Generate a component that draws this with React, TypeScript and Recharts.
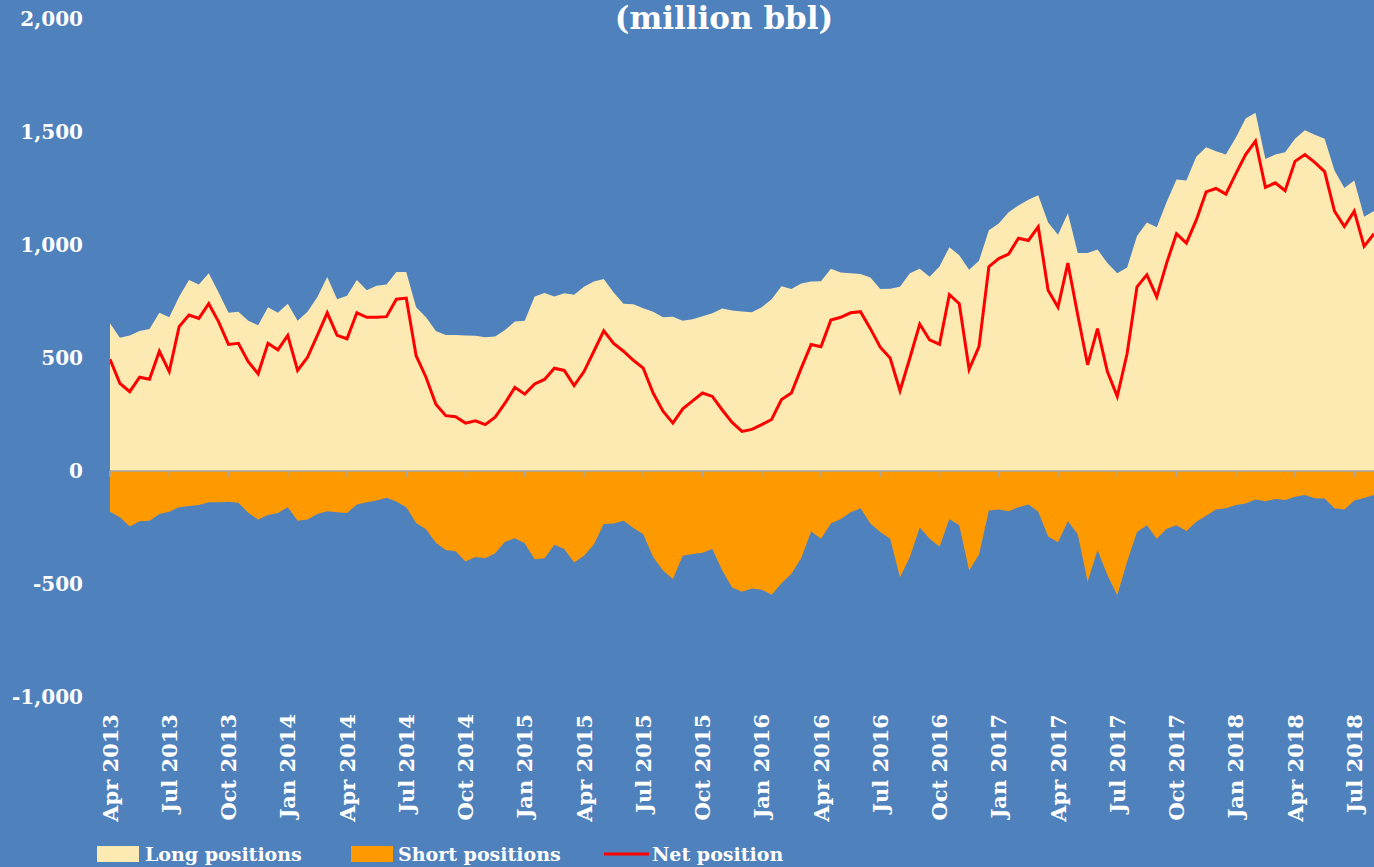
import React from 'react';
import { ComposedChart, Area, Line, XAxis, YAxis, ReferenceLine, Legend } from 'recharts';

// Semi-monthly observations, starting 1 Apr 2013 (index i -> i/2 months after Apr 2013)
const longPositions: number[] = [
  654, 590, 600, 620, 628, 700, 680, 771, 845, 825,
  875, 790, 700, 705, 665, 645, 725, 700, 740, 665,
  705, 770, 858, 760, 775, 845, 800, 820, 825, 880,
  880, 725, 680, 620, 602, 602, 600, 598, 592, 595,
  624, 661, 665, 772, 788, 772, 786, 780, 815, 838,
  850, 790, 740, 738, 720, 705, 680, 683, 665, 672,
  685, 698, 719, 710, 706, 702, 725, 760, 818, 805,
  830, 838, 840, 895, 878, 875, 872, 856, 805, 806,
  815, 875, 895, 860, 905, 990, 955, 890, 930, 1065,
  1095, 1145, 1175, 1200, 1220, 1100, 1045, 1140, 965, 965,
  980, 920, 875, 900, 1040, 1100, 1078, 1190, 1290, 1285,
  1390, 1432, 1415, 1400, 1475, 1560, 1585, 1380, 1400, 1410,
  1470, 1508, 1488, 1470, 1330, 1252, 1285, 1125, 1150,
];

const shortPositions: number[] = [
  -180, -205, -246, -222, -220, -190, -180, -160, -155, -150,
  -138, -138, -136, -140, -185, -215, -195, -186, -160, -220,
  -215, -190, -178, -183, -186, -148, -138, -130, -118, -135,
  -160, -230, -258, -318, -350, -355, -400, -380, -386, -364,
  -313, -298, -320, -391, -386, -326, -345, -405, -375, -325,
  -235, -232, -220, -252, -280, -380, -440, -478, -375, -367,
  -362, -345, -440, -515, -534, -520, -525, -548, -497, -455,
  -385, -268, -300, -232, -212, -182, -165, -232, -270, -300,
  -470, -380, -250, -300, -335, -212, -240, -440, -370, -175,
  -170, -178, -160, -148, -180, -290, -315, -222, -280, -490,
  -350, -460, -550, -400, -270, -240, -300, -255, -240, -265,
  -225, -198, -170, -165, -150, -144, -126, -134, -124, -128,
  -114, -106, -121, -122, -165, -170, -130, -120, -106,
];

const netPosition: number[] = [
  494, 388, 351, 415, 406, 530, 440, 639, 690, 675,
  740, 660, 560, 565, 484, 430, 565, 536, 600, 445,
  503, 600, 700, 600, 585, 700, 680, 680, 683, 760,
  765, 510, 415, 295, 245, 240, 212, 222, 205, 238,
  300, 370, 340, 385, 405, 455, 445, 378, 440, 530,
  620, 565, 530, 490, 455, 345, 265, 212, 275, 310,
  345, 330, 270, 215, 175, 184, 205, 228, 316, 345,
  455, 560, 550, 668, 680, 700, 705, 630, 548, 500,
  355, 500, 650, 580, 560, 780, 740, 450, 550, 904,
  940, 960, 1030, 1020, 1080, 800, 725, 920, 690, 470,
  630, 440, 330, 520, 815, 868, 770, 920, 1050, 1008,
  1110, 1235, 1250, 1225, 1315, 1400, 1460, 1255, 1275, 1240,
  1370, 1400, 1366, 1325, 1150, 1082, 1150, 994, 1050,
];

const quarterTicks: number[] = [0, 3, 6, 9, 12, 15, 18, 21, 24, 27, 30, 33, 36, 39, 42, 45, 48, 51, 54, 57, 60, 63];
const quarterLabels: string[] = [
  'Apr 2013', 'Jul 2013', 'Oct 2013', 'Jan 2014', 'Apr 2014', 'Jul 2014', 'Oct 2014', 'Jan 2015',
  'Apr 2015', 'Jul 2015', 'Oct 2015', 'Jan 2016', 'Apr 2016', 'Jul 2016', 'Oct 2016', 'Jan 2017',
  'Apr 2017', 'Jul 2017', 'Oct 2017', 'Jan 2018', 'Apr 2018', 'Jul 2018',
];
const yTicks: number[] = [-1000, -500, 0, 500, 1000, 1500, 2000];

const seriesNames = { long: 'Long positions', short: 'Short positions', net: 'Net position' };

const BG = '#4F81BD';
const LONG_C = '#FDE9B2';
const SHORT_C = '#FF9900';
const NET_C = '#FF0000';
const AXIS_C = '#A6A6A6';
const FONT = '"DejaVu Serif", serif';

const data = longPositions.map((v, i) => ({
  m: i / 2,
  long: v,
  short: shortPositions[i],
  net: netPosition[i],
}));

const XTick = (props: any) => {
  const { x, y, payload } = props;
  const idx = quarterTicks.indexOf(payload.value);
  const label = idx >= 0 ? quarterLabels[idx] : '';
  return (
    <text
      transform={`translate(${x},${y + 2}) rotate(-90)`}
      textAnchor="end"
      dominantBaseline="central"
      fill="#FFFFFF"
      fontFamily={FONT}
      fontWeight="bold"
      fontSize={21}
    >
      {label}
    </text>
  );
};

const LegendContent = () => (
  <svg width={1374} height={29} style={{ display: 'block' }}>
    <rect x={97} y={8} width={42} height={16} fill={LONG_C} />
    <text x={145} y={23} fill="#FFFFFF" fontFamily={FONT} fontWeight="bold" fontSize={19}>
      {seriesNames.long}
    </text>
    <rect x={351} y={8} width={42} height={16} fill={SHORT_C} />
    <text x={398} y={23} fill="#FFFFFF" fontFamily={FONT} fontWeight="bold" fontSize={19}>
      {seriesNames.short}
    </text>
    <line x1={604} x2={649} y1={16} y2={16} stroke={NET_C} strokeWidth={3} />
    <text x={652} y={23} fill="#FFFFFF" fontFamily={FONT} fontWeight="bold" fontSize={19}>
      {seriesNames.net}
    </text>
  </svg>
);

export default function App() {
  return (
    <div
      style={{
        position: 'absolute',
        left: 0,
        top: 0,
        width: 1374,
        height: 867,
        background: BG,
        overflow: 'hidden',
      }}
    >
      <ComposedChart
        width={1374}
        height={867}
        data={data}
        margin={{ top: 19, right: 0, bottom: 0, left: 0 }}
      >
        <XAxis
          dataKey="m"
          type="number"
          domain={[0, 64]}
          ticks={quarterTicks}
          interval={0}
          axisLine={false}
          tickLine={false}
          tickSize={0}
          tickMargin={15}
          height={141}
          tick={<XTick />}
          allowDataOverflow
        />
        <YAxis
          type="number"
          domain={[-1000, 2000]}
          ticks={yTicks}
          interval={0}
          width={110}
          axisLine={false}
          tickLine={false}
          tickSize={0}
          tickMargin={27}
          tickFormatter={(v: number) => v.toLocaleString('en-US')}
          tick={{ fill: '#FFFFFF', fontFamily: FONT, fontWeight: 'bold', fontSize: 20 }}
          allowDataOverflow
        />
        <Area
          type="linear"
          dataKey="long"
          name={seriesNames.long}
          fill={LONG_C}
          fillOpacity={1}
          stroke="none"
          baseValue={0}
          isAnimationActive={false}
          activeDot={false}
        />
        <Area
          type="linear"
          dataKey="short"
          name={seriesNames.short}
          fill={SHORT_C}
          fillOpacity={1}
          stroke="none"
          baseValue={0}
          isAnimationActive={false}
          activeDot={false}
        />
        <ReferenceLine y={0} stroke={AXIS_C} strokeWidth={1.5} />
        {quarterTicks.map((t) => (
          <ReferenceLine
            key={`tk-${t}`}
            segment={[
              { x: t, y: 0 },
              { x: t, y: -25 },
            ]}
            stroke={AXIS_C}
            strokeWidth={1.5}
          />
        ))}
        <Line
          type="linear"
          dataKey="net"
          name={seriesNames.net}
          stroke={NET_C}
          strokeWidth={3}
          dot={false}
          activeDot={false}
          isAnimationActive={false}
        />
        <Legend verticalAlign="bottom" height={29} content={<LegendContent />} />
      </ComposedChart>
      <svg
        width={1374}
        height={40}
        style={{ position: 'absolute', left: 0, top: 0, pointerEvents: 'none' }}
      >
        <text
          x={724}
          y={29}
          textAnchor="middle"
          fill="#FFFFFF"
          fontFamily={FONT}
          fontWeight="bold"
          fontSize={31}
        >
          (million bbl)
        </text>
      </svg>
    </div>
  );
}
